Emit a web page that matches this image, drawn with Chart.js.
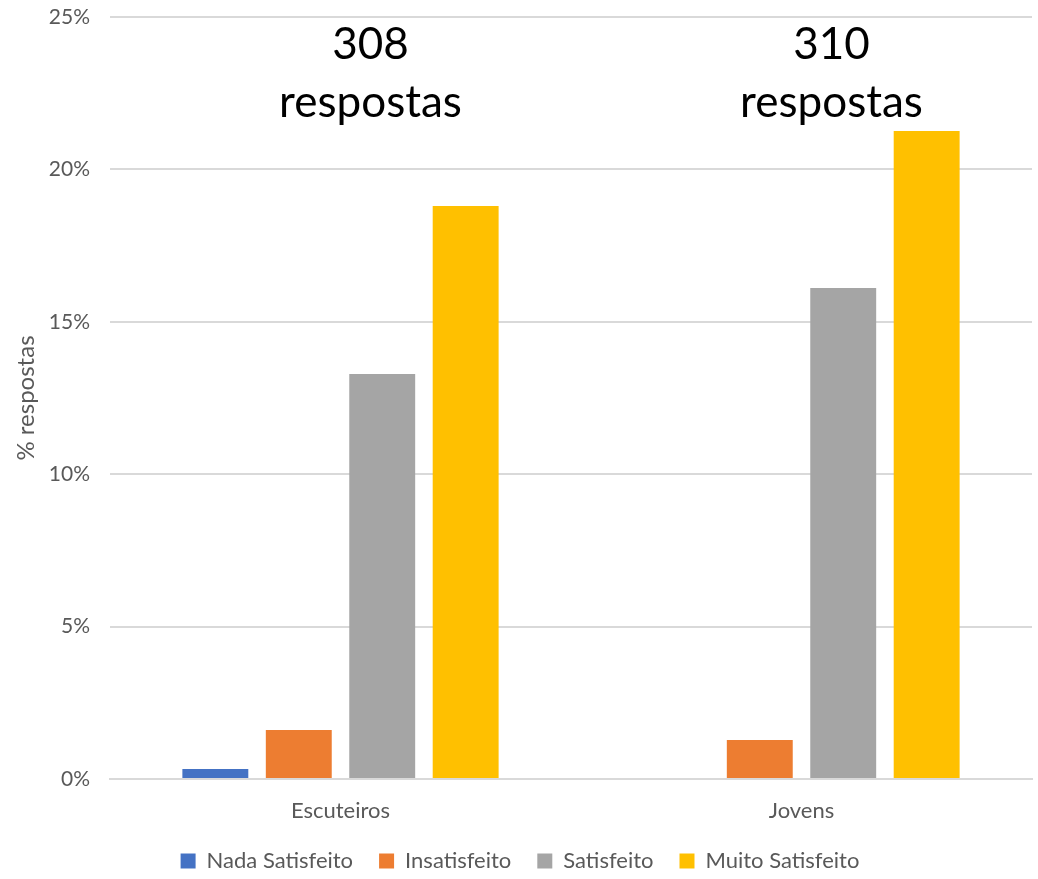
<!DOCTYPE html>
<html>
<head>
<meta charset="utf-8">
<script src="https://cdn.jsdelivr.net/npm/chart.js@4"></script>
<style>
    html, body { margin: 0; padding: 0; background: #fff; }
    #wrap { width: 1038px; height: 879px; }
</style>
</head>
<body>
<div id="wrap"><canvas id="barChart" width="1038" height="879"></canvas></div>
<script>
var categories = ['Escuteiros', 'Jovens'];
var seriesNames = ['Nada Satisfeito', 'Insatisfeito', 'Satisfeito', 'Muito Satisfeito'];
var nadaSatisfeito = [0.33, 0];
var insatisfeito = [1.61, 1.28];
var satisfeito = [13.29, 16.11];
var muitoSatisfeito = [18.80, 21.26];
var respostas = ['308', '310'];
var yTicks = [0, 5, 10, 15, 20, 25];

var colors = ['#4472C4', '#ED7D31', '#A5A5A5', '#FFC000'];
var fontFamily = 'Lato, "Open Sans", sans-serif';

// big "N respostas" labels above each group
var respostasLabels = {
    id: 'respostasLabels',
    afterDraw: function (chart) {
        var ctx = chart.ctx;
        var x = chart.scales.x;
        var y = chart.scales.y;
        ctx.save();
        ctx.fillStyle = '#000';
        ctx.font = '44px ' + fontFamily;
        ctx.textAlign = 'center';
        ctx.textBaseline = 'middle';
        for (var i = 0; i < categories.length; i++) {
            var cx = x.getPixelForValue(i) + 30;
            ctx.fillText(respostas[i], cx, y.getPixelForValue(24.1));
            ctx.fillText('respostas', cx, y.getPixelForValue(22.2));
        }
        ctx.restore();
    }
};

// keep the legend short so the plot can reach further down
var legendHeight = {
    id: 'legendHeight',
    beforeLayout: function (chart) {
        var lg = chart.legend;
        if (lg && !lg._shortFit) {
            var orig = lg.fit;
            lg.fit = function () {
                orig.call(this);
                this.height = 55;
            };
            lg._shortFit = true;
        }
    }
};

var datasets = [nadaSatisfeito, insatisfeito, satisfeito, muitoSatisfeito].map(function (d, i) {
    return {
        label: seriesNames[i],
        data: d,
        backgroundColor: colors[i],
        borderWidth: 0,
        categoryPercentage: 0.724,
        barPercentage: 0.79
    };
});

new Chart(document.getElementById('barChart').getContext('2d'), {
    type: 'bar',
    data: { labels: categories, datasets: datasets },
    plugins: [respostasLabels, legendHeight],
    options: {
        responsive: false,
        animation: false,
        layout: { padding: { left: 8, right: 6, top: 17, bottom: 0 } },
        plugins: {
            tooltip: { enabled: false },
            legend: {
                position: 'bottom',
                labels: {
                    boxWidth: 15,
                    boxHeight: 15,
                    padding: 26,
                    color: '#595959',
                    font: { family: fontFamily, size: 22 }
                }
            }
        },
        scales: {
            x: {
                grid: { display: false },
                border: { color: '#D9D9D9', width: 2 },
                afterFit: function (scale) { scale.height = 45; },
                ticks: { color: '#595959', font: { family: fontFamily, size: 22 }, padding: 11 }
            },
            y: {
                min: 0,
                max: 25,
                afterBuildTicks: function (scale) {
                    scale.ticks = yTicks.map(function (v) { return { value: v }; });
                },
                afterFit: function (scale) {
                    scale.width = 102;
                    scale.paddingTop = 0;
                    scale.paddingBottom = 0;
                },
                grid: { color: '#D9D9D9', lineWidth: 2, drawTicks: false },
                border: { display: false },
                ticks: {
                    color: '#595959',
                    padding: 20,
                    font: { family: fontFamily, size: 21 },
                    callback: function (v) { return v + '%'; }
                },
                title: {
                    display: true,
                    text: '% respostas',
                    color: '#595959',
                    font: { family: fontFamily, size: 24 }
                }
            }
        }
    }
});
</script>
</body>
</html>
